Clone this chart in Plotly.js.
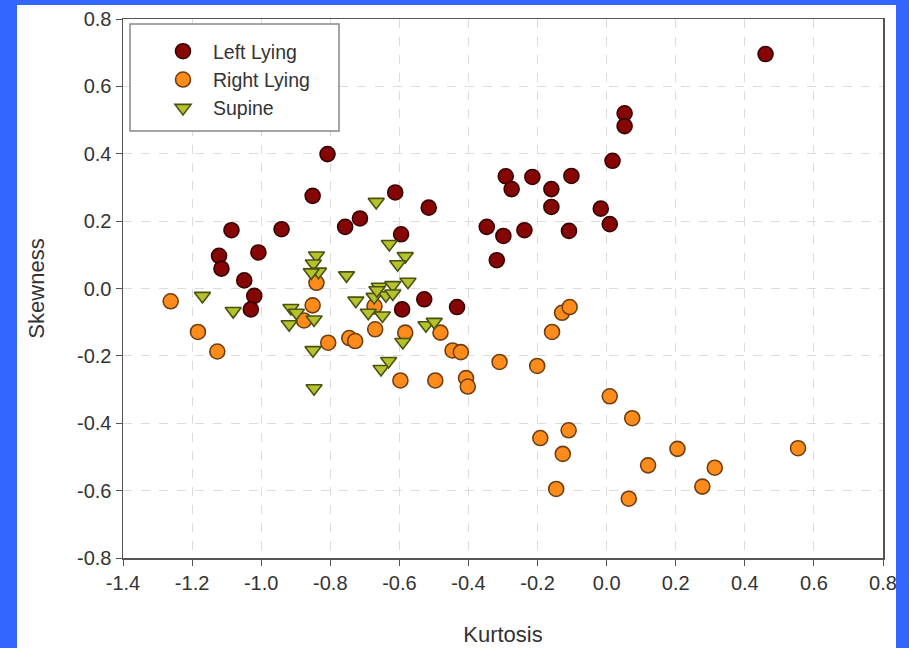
<!DOCTYPE html>
<html>
<head>
<meta charset="utf-8">
<script src="https://cdn.plot.ly/plotly-3.0.1.min.js"></script>
<style>html,body{margin:0;padding:0;background:#3366ff;}#chart{width:909px;height:648px;}</style>
</head>
<body>
<div id="chart"></div>
<script>
// Left Lying
const leftX = [-0.808,-0.851,-1.086,-0.941,-1.122,-1.008,-1.115,-1.049,-1.020,-1.030,-0.757,-0.714,-0.612,-0.595,-0.515,-0.528,-0.592,-0.433,-0.347,-0.299,-0.318,-0.292,-0.275,-0.215,-0.238,-0.160,-0.160,-0.102,-0.109,-0.017,0.009,0.017,0.460,0.052,0.052];
const leftY = [0.399,0.275,0.173,0.176,0.097,0.107,0.059,0.024,-0.022,-0.062,0.183,0.208,0.285,0.161,0.240,-0.032,-0.062,-0.055,0.183,0.156,0.084,0.333,0.295,0.331,0.173,0.295,0.242,0.334,0.171,0.237,0.191,0.379,0.696,0.520,0.482];
// Right Lying
const rightX = [-1.262,-1.183,-1.127,-0.840,-0.851,-0.876,-0.806,-0.745,-0.728,-0.670,-0.672,-0.597,-0.583,-0.481,-0.446,-0.422,-0.496,-0.407,-0.402,-0.310,-0.201,-0.158,-0.129,-0.107,0.009,0.074,-0.192,-0.110,-0.127,-0.146,0.120,0.205,0.313,0.277,0.064,0.554];
const rightY = [-0.038,-0.129,-0.187,0.017,-0.050,-0.095,-0.161,-0.147,-0.156,-0.121,-0.053,-0.273,-0.131,-0.131,-0.184,-0.189,-0.273,-0.266,-0.291,-0.218,-0.230,-0.129,-0.072,-0.055,-0.320,-0.385,-0.444,-0.421,-0.491,-0.595,-0.525,-0.476,-0.532,-0.588,-0.624,-0.474];
// Supine
const supX = [-1.170,-1.081,-0.914,-0.898,-0.919,-0.847,-0.840,-0.849,-0.834,-0.855,-0.753,-0.726,-0.690,-0.649,-0.667,-0.629,-0.583,-0.605,-0.575,-0.850,-0.847,-0.653,-0.631,-0.658,-0.619,-0.673,-0.639,-0.619,-0.590,-0.523,-0.499,-0.665];
const supY = [-0.022,-0.067,-0.058,-0.072,-0.106,-0.092,0.098,0.074,0.050,0.048,0.039,-0.036,-0.072,-0.080,0.257,0.132,0.096,0.072,0.020,-0.183,-0.296,-0.239,-0.215,0.005,0.010,-0.025,-0.020,-0.015,-0.159,-0.109,-0.099,-0.005];

const xTickVals = [-1.4,-1.2,-1.0,-0.8,-0.6,-0.4,-0.2,0.0,0.2,0.4,0.6,0.8];
const xTickText = ["-1.4","-1.2","-1.0","-0.8","-0.6","-0.4","-0.2","0.0","0.2","0.4","0.6","0.8"];
const yTickVals = [-0.8,-0.6,-0.4,-0.2,0.0,0.2,0.4,0.6,0.8];
const yTickText = ["-0.8","-0.6","-0.4","-0.2","0.0","0.2","0.4","0.6","0.8"];

const traces = [
  {x:leftX, y:leftY, name:'Left Lying', type:'scatter', mode:'markers',
   marker:{symbol:'circle', size:15, color:'#860606', line:{color:'#3a0000', width:1.6}}},
  {x:rightX, y:rightY, name:'Right Lying', type:'scatter', mode:'markers',
   marker:{symbol:'circle', size:15, color:'#ff8c1a', line:{color:'#6e3f12', width:1.6}}},
  {x:supX, y:supY, name:'Supine', type:'scatter', mode:'markers',
   marker:{symbol:'triangle-down', size:14, color:'#b6c229', line:{color:'#4a5212', width:1.6}}}
];

const W = 760, H = 539, L = 123, T = 19;
function px(x){return (x - L)/W;}
function py(y){return (T + H - y)/H;}

const layout = {
  width:909, height:648,
  margin:{l:123, r:26, t:19, b:90},
  paper_bgcolor:'#3366ff',
  plot_bgcolor:'rgba(255,255,255,0)',
  font:{family:'Liberation Sans, Arial, sans-serif', color:'#333333', size:18},
  showlegend:true,
  legend:{x:px(153), y:py(32), xanchor:'left', yanchor:'top', bgcolor:'rgba(0,0,0,0)', borderwidth:0,
          itemwidth:50, font:{size:19.5, color:'#333333'}},
  xaxis:{range:[-1.4,0.8], tickvals:xTickVals, ticktext:xTickText, showgrid:true, gridcolor:'#dcdcdc', griddash:'dash', gridwidth:1,
         zeroline:false, showline:true, linecolor:'#555555', linewidth:1.5, mirror:true,
         ticks:'outside', ticklen:6, tickcolor:'#555555', tickfont:{size:20, color:'#333333'},
         title:{text:'Kurtosis', font:{size:22, color:'#333333'}, standoff:34}},
  yaxis:{range:[-0.8,0.8], tickvals:yTickVals, ticktext:yTickText, showgrid:true, gridcolor:'#dcdcdc', griddash:'dash', gridwidth:1,
         zeroline:false, showline:true, linecolor:'#555555', linewidth:1.5, mirror:true,
         ticks:'outside', ticklen:6, tickcolor:'#555555', tickfont:{size:20, color:'#333333'},
         title:{text:'Skewness', font:{size:22, color:'#333333'}, standoff:26}},
  shapes:[
    {type:'rect', xref:'paper', yref:'paper', x0:px(17), x1:px(896), y0:py(650), y1:py(5), fillcolor:'#ffffff', line:{width:0}, layer:'below'},
    {type:'rect', xref:'paper', yref:'paper', x0:px(130), x1:px(339), y0:py(131), y1:py(24), fillcolor:'#ffffff', line:{color:'#888888', width:1.5}, layer:'above'}
  ]
};

Plotly.newPlot('chart', traces, layout, {displayModeBar:false, staticPlot:true});
</script>
</body>
</html>
